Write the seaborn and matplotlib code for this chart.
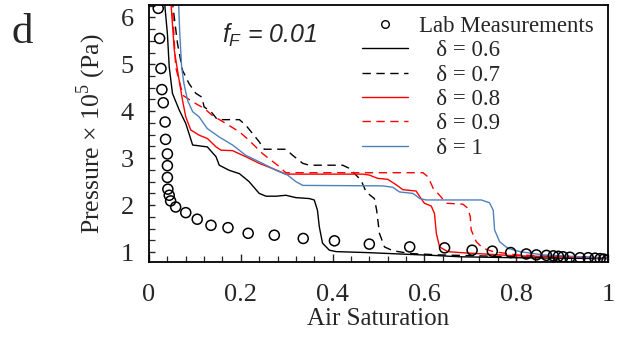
import numpy as np
import pandas as pd
import matplotlib
matplotlib.use("Agg")
import matplotlib.pyplot as plt
from matplotlib.lines import Line2D
from matplotlib.ticker import MultipleLocator
import seaborn as sns

# ---------------- data ----------------
lab_x = [0.020, 0.023, 0.026, 0.028, 0.031, 0.035, 0.036, 0.040, 0.040, 0.040, 0.041,
         0.044, 0.047, 0.058, 0.080, 0.105, 0.135, 0.172, 0.216, 0.273, 0.336, 0.404,
         0.480, 0.568, 0.644, 0.704, 0.748, 0.788, 0.822, 0.844, 0.866, 0.881, 0.892,
         0.902, 0.917, 0.939, 0.957, 0.972, 0.983, 0.991, 0.998]
lab_y = [6.19, 5.55, 4.91, 4.46, 4.18, 3.77, 3.40, 3.09, 2.84, 2.59, 2.34,
         2.21, 2.09, 1.96, 1.84, 1.70, 1.57, 1.52, 1.40, 1.36, 1.29, 1.24,
         1.17, 1.11, 1.09, 1.04, 1.02, 0.99, 0.96, 0.94, 0.93, 0.92, 0.91,
         0.90, 0.89, 0.88, 0.88, 0.87, 0.86, 0.85, 0.82]

d06_x = [0.033, 0.040, 0.044, 0.051, 0.066, 0.080, 0.095, 0.127, 0.146, 0.153, 0.175,
         0.197, 0.218, 0.240, 0.255, 0.277, 0.298, 0.320, 0.349, 0.360, 0.367, 0.371,
         0.378, 0.393, 0.408, 0.473, 0.546, 0.618, 0.677, 0.800, 1.000]
d06_y = [6.40, 5.65, 4.94, 4.38, 4.02, 3.74, 3.28, 3.24, 3.03, 2.85, 2.74,
         2.67, 2.50, 2.25, 2.19, 2.19, 2.21, 2.16, 2.14, 2.11, 1.89, 1.54,
         1.19, 1.04, 1.01, 0.99, 0.96, 0.93, 0.90, 0.88, 0.86]

d07_x = [0.050, 0.062, 0.073, 0.087, 0.102, 0.115, 0.120, 0.135, 0.149, 0.197, 0.211,
         0.240, 0.251, 0.298, 0.313, 0.335, 0.349, 0.422, 0.437, 0.462, 0.473, 0.491,
         0.496, 0.502, 0.513, 0.531, 0.568, 0.633, 0.800, 1.000]
d07_y = [6.40, 5.44, 4.87, 4.59, 4.38, 4.30, 4.09, 3.99, 3.82, 3.82, 3.70,
         3.35, 3.19, 3.19, 3.06, 2.89, 2.85, 2.85, 2.78, 2.53, 2.28, 2.14,
         1.89, 1.40, 1.11, 1.03, 0.97, 0.94, 0.90, 0.87]

d08_x = [0.047, 0.055, 0.062, 0.073, 0.080, 0.091, 0.109, 0.127, 0.146, 0.157, 0.182,
         0.211, 0.240, 0.269, 0.298, 0.349, 0.466, 0.480, 0.498, 0.520, 0.539, 0.553,
         0.582, 0.590, 0.600, 0.615, 0.622, 0.626, 0.633, 0.651, 0.677, 0.800, 1.000]
d08_y = [6.40, 5.30, 4.87, 4.23, 3.88, 3.60, 3.49, 3.42, 3.24, 3.17, 3.16,
         3.03, 2.89, 2.78, 2.66, 2.66, 2.66, 2.64, 2.57, 2.55, 2.43, 2.33,
         2.30, 2.18, 2.04, 1.98, 1.82, 1.40, 1.11, 1.01, 0.99, 0.92, 0.88]

d09_x = [0.050, 0.058, 0.069, 0.075, 0.095, 0.120, 0.138, 0.167, 0.197, 0.218, 0.247,
         0.280, 0.298, 0.597, 0.608, 0.619, 0.633, 0.648, 0.684, 0.695, 0.700, 0.702,
         0.713, 0.728, 0.750, 0.801, 1.000]
d09_y = [6.40, 4.94, 4.52, 4.33, 4.20, 4.06, 3.91, 3.74, 3.56, 3.38, 3.10,
         2.85, 2.69, 2.69, 2.60, 2.36, 2.21, 2.04, 2.02, 1.93, 1.75, 1.47,
         1.22, 1.08, 1.01, 0.94, 0.87]

d10_x = [0.064, 0.067, 0.071, 0.076, 0.084, 0.095, 0.109, 0.127, 0.153, 0.182, 0.211,
         0.247, 0.277, 0.302, 0.320, 0.335, 0.509, 0.531, 0.546, 0.575, 0.590, 0.604,
         0.724, 0.742, 0.750, 0.753, 0.764, 0.782, 0.808, 0.859, 1.000]
d10_y = [6.40, 5.65, 4.94, 4.59, 4.23, 3.99, 3.88, 3.63, 3.45, 3.28, 3.06,
         2.89, 2.74, 2.64, 2.50, 2.42, 2.41, 2.38, 2.28, 2.25, 2.14, 2.11,
         2.11, 2.05, 1.89, 1.47, 1.22, 1.08, 1.01, 0.94, 0.87]

series_names = ["δ = 0.6", "δ = 0.7", "δ = 0.8", "δ = 0.9", "δ = 1"]
series_x = [d06_x, d07_x, d08_x, d09_x, d10_x]
series_y = [d06_y, d07_y, d08_y, d09_y, d10_y]
series_colors = ["black", "black", "#ff0000", "#ff0000", "#4f81bd"]
series_dashes = [None, (6, 4), None, (6, 4), None]

x_ticks = [0, 0.2, 0.4, 0.6, 0.8, 1]
x_ticklabels = ["0", "0.2", "0.4", "0.6", "0.8", "1"]
y_ticks = [1, 2, 3, 4, 5, 6]
y_ticklabels = ["1", "2", "3", "4", "5", "6"]

# ---------------- plot ----------------
sns.set_style("ticks")
plt.rcParams["font.family"] = ["Liberation Serif", "DejaVu Serif"]
plt.rcParams["mathtext.fontset"] = "custom"
plt.rcParams["mathtext.it"] = "Liberation Sans:italic"
plt.rcParams["mathtext.rm"] = "Liberation Sans:italic"

fig = plt.figure(figsize=(6.21, 3.38), dpi=100)
ax = fig.add_axes([0.240, 0.225, 0.739, 0.760])

frames = []
for name, xs, ys in zip(series_names, series_x, series_y):
    frames.append(pd.DataFrame({"x": xs, "y": ys, "series": name}))
df = pd.concat(frames, ignore_index=True)

handles = []
lab_df = pd.DataFrame({"x": lab_x, "y": lab_y})
sns.scatterplot(data=lab_df, x="x", y="y", ax=ax, marker="o", s=52,
                facecolor="none", edgecolor="black", linewidth=1.1, zorder=3,
                legend=False)
handles.append(Line2D([], [], linestyle="none", marker="o", markersize=5.5,
                      markerfacecolor="none", markeredgecolor="black",
                      markeredgewidth=1.0, label="Lab Measurements"))

for name, col, dash in zip(series_names, series_colors, series_dashes):
    sub = df[df["series"] == name]
    sns.lineplot(data=sub, x="x", y="y", ax=ax, color=col, sort=False,
                 linewidth=1.0, estimator=None, legend=False)
    ln = ax.lines[-1]
    if dash is not None:
        ln.set_dashes(dash)
    h = Line2D([], [], color=col, linewidth=1.0, label="   " + name)
    if dash is not None:
        h.set_dashes(dash)
    handles.append(h)

ax.set_xlim(0, 1)
ax.set_ylim(0.79, 6.26)
ax.set_xticks(x_ticks)
ax.set_xticklabels(x_ticklabels)
ax.set_yticks(y_ticks)
ax.set_yticklabels(y_ticklabels)
ax.xaxis.set_minor_locator(MultipleLocator(0.04))
ax.yaxis.set_minor_locator(MultipleLocator(0.25))
ax.tick_params(axis="x", which="major", direction="in", length=6, width=1.0,
               labelsize=19, pad=16, top=False)
ax.tick_params(axis="x", which="minor", direction="in", length=4, width=0.9, top=False)
ax.tick_params(axis="y", which="major", direction="in", length=4, width=1.0,
               labelsize=19, pad=11, right=False)
ax.tick_params(axis="y", which="minor", direction="in", length=4, width=0.9, right=False)
for sp in ax.spines.values():
    sp.set_visible(True)
    sp.set_linewidth(1.3)
    sp.set_color("black")

ax.set_xlabel("Air Saturation", fontsize=18, labelpad=1)
ax.set_ylabel("Pressure × 10$^{\\mathregular{5}}$ (Pa)", fontsize=18.5, labelpad=9)

ax.text(0.158, 0.855, r"$f_F$ = 0.01", transform=ax.transAxes, fontsize=18,
        fontstyle="italic", family=["Liberation Sans"])
fig.text(0.019, 0.873, "d", fontsize=31, va="baseline")

leg = ax.legend(handles=handles, loc="upper right", frameon=False, fontsize=16.5,
                handlelength=2.0, handletextpad=0.5, labelspacing=0.15,
                borderaxespad=0.0, bbox_to_anchor=(0.99, 0.995))

fig.savefig("out.png", dpi=100)
